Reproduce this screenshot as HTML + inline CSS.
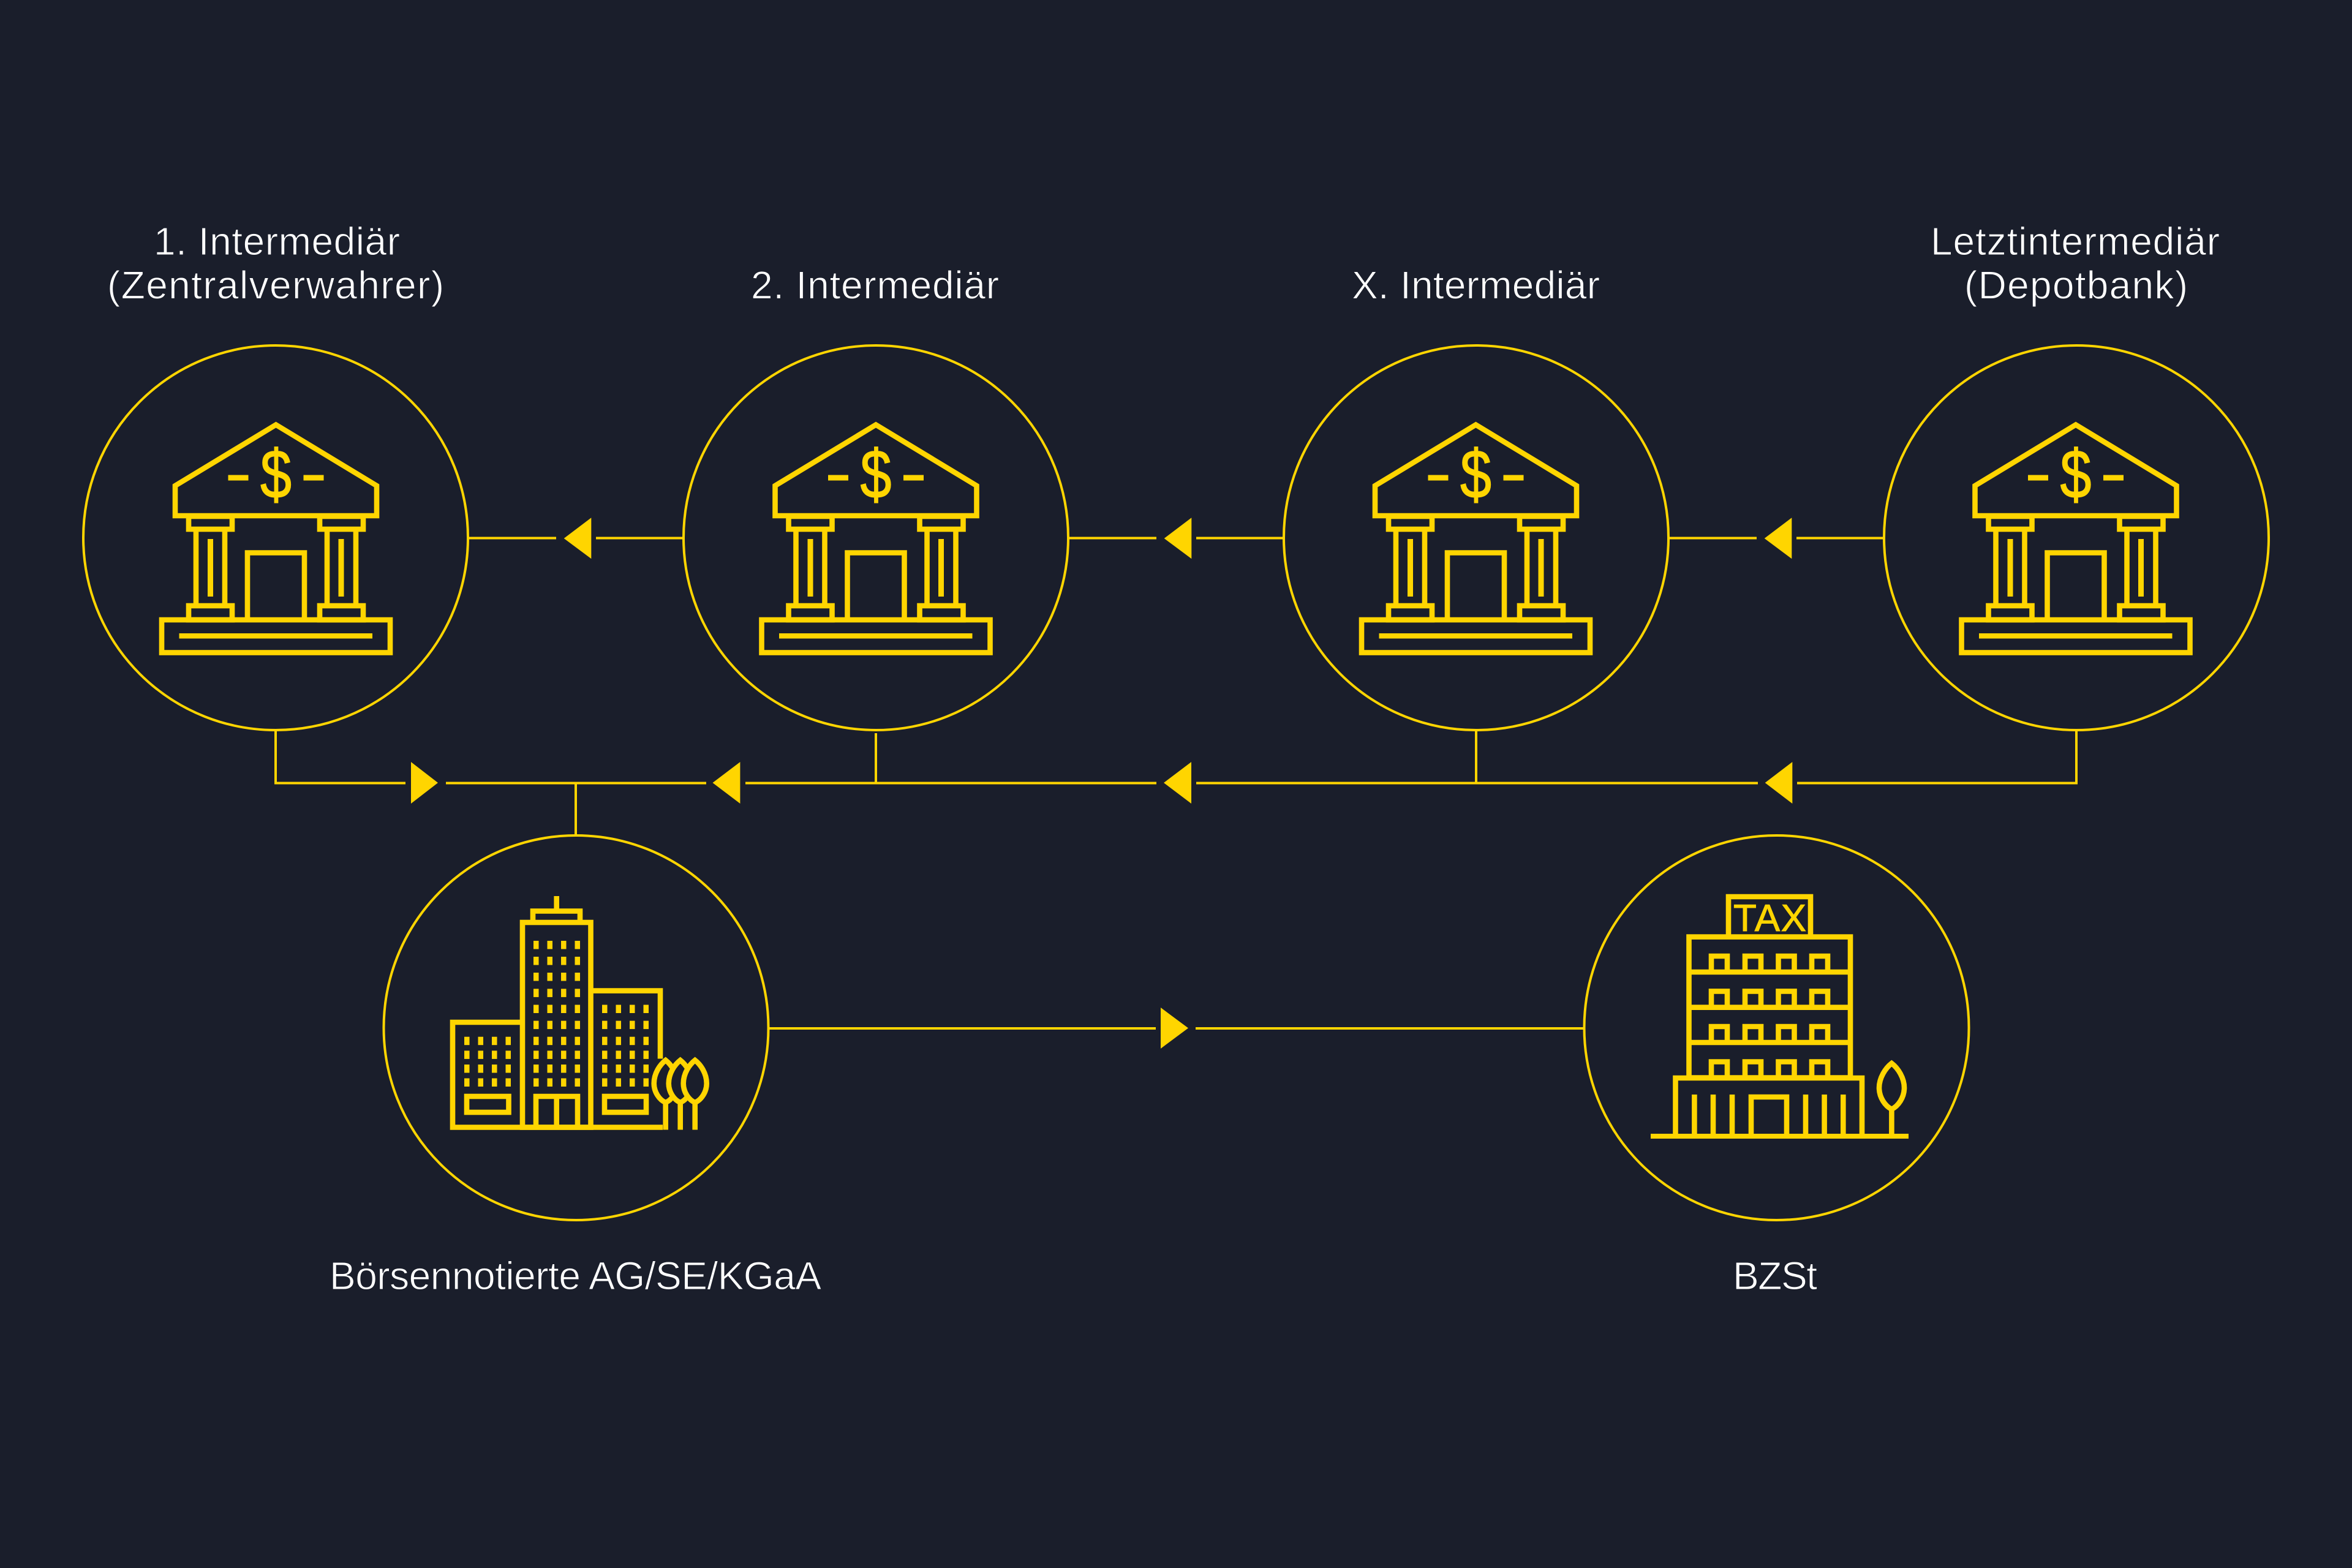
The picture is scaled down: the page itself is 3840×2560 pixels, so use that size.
<!DOCTYPE html>
<html lang="de"><head><meta charset="utf-8"><title>Diagramm</title>
<style>
html,body{margin:0;padding:0;background:#1a1e2b}
svg{display:block}
.t{font-family:"Liberation Sans",sans-serif;font-size:64px;fill:#fff;stroke:#1a1e2b;stroke-width:1px}
.y{font-family:"Liberation Sans",sans-serif;fill:#ffd500}
</style></head><body>
<svg xmlns="http://www.w3.org/2000/svg" width="3840" height="2560" viewBox="0 0 3840 2560">
<defs>
<g id="bank" fill="none" stroke="#ffd500" stroke-width="8.600">
<path d="M286 842V793L450.500 693.500 615 793V842Z"/>
<rect x="308" y="843" width="71" height="21"/><rect x="522" y="843" width="71" height="21"/>
<path d="M320 864V985M367 864V985M534 864V985M581 864V985"/>
<rect x="308" y="989" width="71" height="23"/><rect x="522" y="989" width="71" height="23"/>
<path d="M404 1012V902.500H497V1012"/>
<rect x="264" y="1012" width="373" height="53.500"/>
<g fill="#ffd500" stroke="none">
<rect x="372.500" y="775.500" width="33" height="9"/><rect x="495.500" y="775.500" width="33" height="9"/>
<rect x="339" y="880" width="9" height="94"/><rect x="552.500" y="880" width="9" height="94"/>
<rect x="292.500" y="1034" width="315.500" height="8.500"/>
</g></g>
<g id="r4" fill="#ffd500"><rect x="0" y="0" width="8.500" height="13.500"/><rect x="22.500" y="0" width="8.500" height="13.500"/><rect x="45" y="0" width="8.500" height="13.500"/><rect x="67.500" y="0" width="8.500" height="13.500"/></g>
<g id="leaf"><path d="M0 1731C-9 1738-19 1752-19 1769C-19 1783-10 1796 0 1800C10 1796 19 1783 19 1769C19 1752 9 1738 0 1731Z" fill="#1a1e2b" stroke="#ffd500" stroke-width="8.600"/><path d="M0 1802V1844.500" stroke="#ffd500" stroke-width="8.600"/></g>
<g id="fl" fill="none" stroke="#ffd500" stroke-width="8.600"><path d="M2794 26V0H2820V26M2849 26V0H2875V26M2903.500 26V0H2929.500V26M2958 26V0H2984V26"/></g>
</defs>
<rect width="3840" height="2560" fill="#1a1e2b"/>

<g fill="none" stroke="#ffd500" stroke-width="4">
<circle cx="450" cy="878" r="314"/><circle cx="1430" cy="878" r="314"/><circle cx="2410" cy="878" r="314"/><circle cx="3390" cy="878" r="314"/>
<circle cx="940.500" cy="1678" r="314"/><circle cx="2900.500" cy="1678" r="314"/>
<path d="M765 878.500H908M973 878.500H1115M1745 878.500H1888M1953 878.500H2095M2725 878.500H2868M2933 878.500H3075"/>
<path d="M450 1192V1278.500H662M728 1278.500H1153M1217 1278.500H1888M1953 1278.500H2870M2934 1278.500H3390V1192"/>
<path d="M1430 1197V1278M2410 1192V1278M940 1278V1364"/>
<path d="M1255 1679H1887M1952 1679H2586"/>
</g>
<g fill="#ffd500">
<path d="M965.300 845.300V912.300L920.700 879Z"/><path d="M1945.300 845.300V912.300L1900.700 879Z"/><path d="M2925.300 845.300V912.300L2880.700 879Z"/>
<path d="M671 1244V1312L715 1278Z"/><path d="M1208.400 1244V1312L1163.500 1278Z"/><path d="M1945 1244V1312L1900 1278Z"/><path d="M2926.300 1244V1312L2881.700 1278Z"/>
<path d="M1895 1645V1712L1940 1678.500Z"/>
</g>

<use href="#bank"/><use href="#bank" x="979.500"/><use href="#bank" x="1959"/><use href="#bank" x="2938.500"/>
<g class="y" font-size="112" text-anchor="middle" stroke="#ffd500" stroke-width="1.500">
<text x="450.500" y="813" textLength="51" lengthAdjust="spacingAndGlyphs">$</text>
<text x="1430" y="813" textLength="51" lengthAdjust="spacingAndGlyphs">$</text>
<text x="2409.500" y="813" textLength="51" lengthAdjust="spacingAndGlyphs">$</text>
<text x="3389" y="813" textLength="51" lengthAdjust="spacingAndGlyphs">$</text>
</g>

<!-- company buildings -->
<g fill="none" stroke="#ffd500" stroke-width="8.600">
<path d="M853 1669H739V1840.500H1082"/>
<rect x="853" y="1506" width="111.500" height="334.500"/>
<path d="M870 1506V1487.500H947V1506"/>
<path d="M908.700 1463V1489"/>
<path d="M964.500 1617.600H1078V1728.500"/>
<rect x="762" y="1790" width="68.500" height="26"/><rect x="987" y="1790" width="68" height="26"/>
<path d="M875 1840V1790H943V1840M908.700 1790V1840"/>
</g>
<use href="#r4" x="871" y="1536"/><use href="#r4" x="871" y="1562"/><use href="#r4" x="871" y="1588"/><use href="#r4" x="871" y="1614.400"/><use href="#r4" x="871" y="1640.500"/><use href="#r4" x="871" y="1666.600"/><use href="#r4" x="871" y="1692.700"/><use href="#r4" x="871" y="1715.400"/><use href="#r4" x="871" y="1738"/><use href="#r4" x="871" y="1760.500"/>
<use href="#r4" x="758" y="1692.700"/><use href="#r4" x="758" y="1715.400"/><use href="#r4" x="758" y="1738"/><use href="#r4" x="758" y="1760.500"/>
<use href="#r4" x="983" y="1640.500"/><use href="#r4" x="983" y="1666.600"/><use href="#r4" x="983" y="1692.700"/><use href="#r4" x="983" y="1715.400"/><use href="#r4" x="983" y="1738"/><use href="#r4" x="983" y="1760.500"/>
<use href="#leaf" x="1086.700"/><use href="#leaf" x="1110.700"/><use href="#leaf" x="1134.700"/>

<!-- tax building -->
<g fill="none" stroke="#ffd500" stroke-width="8.600">
<path d="M2822 1529.600V1464H2956V1529.600"/>
<rect x="2757.500" y="1529.600" width="263.500" height="230"/>
<path d="M2757.500 1587H3021M2757.500 1644.700H3021M2757.500 1702H3021"/>
<path d="M2735.500 1855V1760H3040V1855"/>
<path d="M2766.400 1787V1855M2797 1787V1855M2828 1787V1855M2948 1787V1855M2978.600 1787V1855M3009.300 1787V1855"/>
<path d="M2859 1855V1791H2917V1855"/>
<path d="M3088.400 1736C3078 1744 3068 1760 3068 1776C3068 1792 3078 1806 3088.400 1811C3099 1806 3109 1792 3109 1776C3109 1760 3099 1744 3088.400 1736Z"/>
<path d="M3088.400 1811V1855"/>
</g>
<rect x="2695" y="1851" width="421" height="8" fill="#ffd500"/>
<use href="#fl" y="1561"/><use href="#fl" y="1618.400"/><use href="#fl" y="1676"/><use href="#fl" y="1733.500"/>
<text class="y" x="2830" y="1520" font-size="62" stroke="#ffd500" stroke-width="1" textLength="119" lengthAdjust="spacing">TAX</text>

<!-- labels -->
<text class="t" x="251" y="416" textLength="402" lengthAdjust="spacing">1. Intermediär</text>
<text class="t" x="175" y="487.500" textLength="550" lengthAdjust="spacing">(Zentralverwahrer)</text>
<text class="t" x="1226" y="487.500" textLength="405" lengthAdjust="spacing">2. Intermediär</text>
<text class="t" x="2207" y="487.500" textLength="405" lengthAdjust="spacing">X. Intermediär</text>
<text class="t" x="3152" y="416" textLength="472" lengthAdjust="spacing">Letztintermediär</text>
<text class="t" x="3207" y="487.500" textLength="365" lengthAdjust="spacing">(Depotbank)</text>
<text class="t" x="538" y="2105" textLength="803" lengthAdjust="spacing">Börsennotierte AG/SE/KGaA</text>
<text class="t" x="2829" y="2105" textLength="138" lengthAdjust="spacing">BZSt</text>
</svg>
</body></html>
